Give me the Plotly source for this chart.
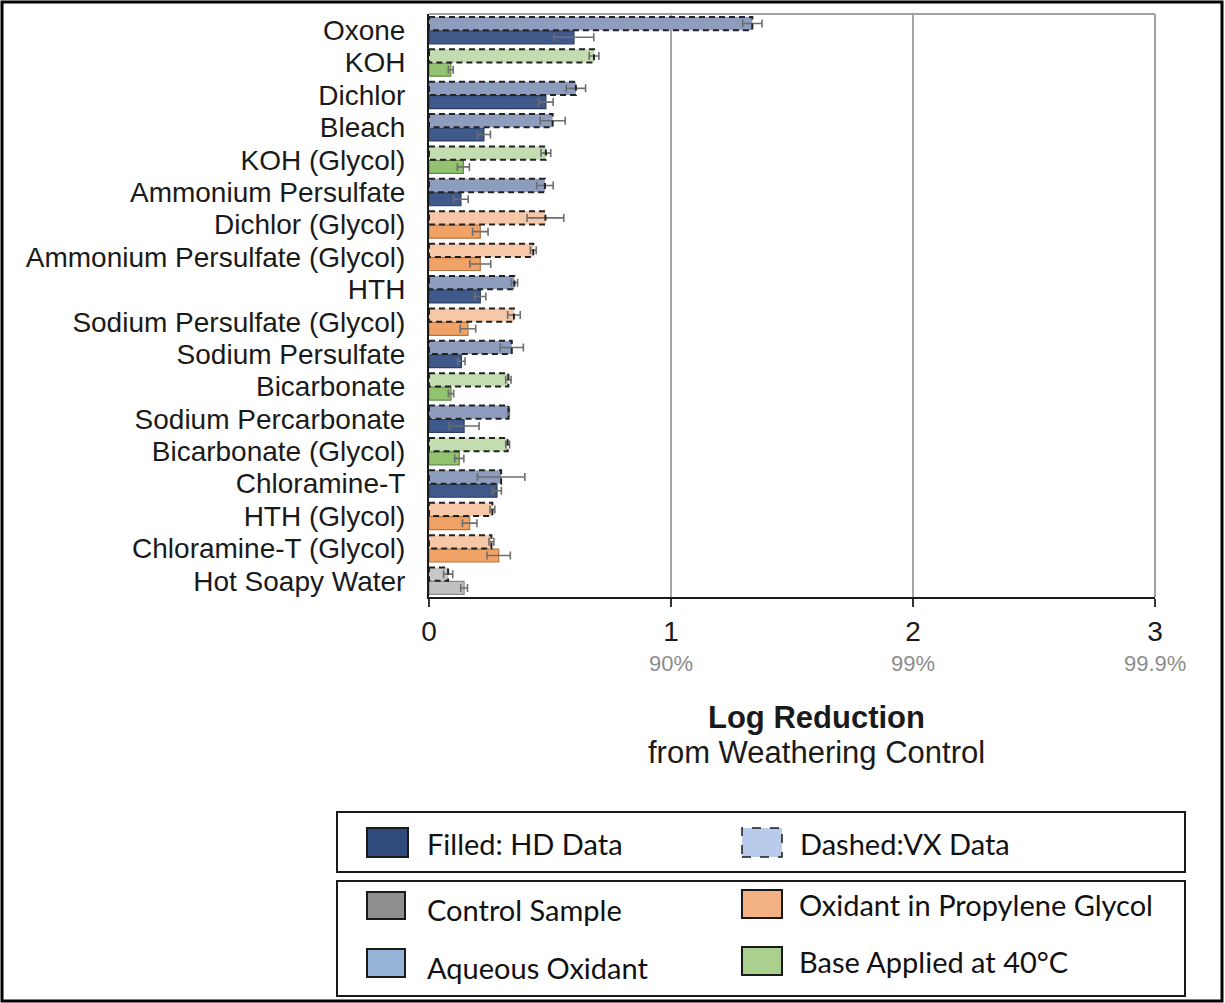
import plotly.graph_objects as go

# ---------------- data ----------------
categories = [
    "Oxone", "KOH", "Dichlor", "Bleach", "KOH (Glycol)", "Ammonium Persulfate",
    "Dichlor (Glycol)", "Ammonium Persulfate (Glycol)", "HTH", "Sodium Persulfate (Glycol)",
    "Sodium Persulfate", "Bicarbonate", "Sodium Percarbonate", "Bicarbonate (Glycol)",
    "Chloramine-T", "HTH (Glycol)", "Chloramine-T (Glycol)", "Hot Soapy Water",
]
groups = [
    "aq", "base", "aq", "aq", "base", "aq",
    "gly", "gly", "aq", "gly",
    "aq", "base", "aq", "base",
    "aq", "gly", "gly", "ctrl",
]
vx_values = [1.336, 0.682, 0.607, 0.511, 0.483, 0.479, 0.481, 0.431, 0.353, 0.351,
             0.342, 0.328, 0.329, 0.325, 0.298, 0.262, 0.258, 0.079]
vx_errors = [0.040, 0.020, 0.040, 0.052, 0.020, 0.034, 0.076, 0.012, 0.013, 0.026,
             0.048, 0.011, 0.003, 0.008, 0.098, 0.010, 0.010, 0.019]
hd_values = [0.599, 0.090, 0.483, 0.227, 0.142, 0.132, 0.212, 0.212, 0.212, 0.161,
             0.134, 0.091, 0.145, 0.125, 0.281, 0.168, 0.288, 0.145]
hd_errors = [0.082, 0.010, 0.030, 0.027, 0.025, 0.030, 0.032, 0.043, 0.023, 0.032,
             0.015, 0.011, 0.062, 0.019, 0.018, 0.030, 0.048, 0.014]
x_tick_values = [0, 1, 2, 3]
x_tick_labels = ["0", "1", "2", "3"]
pct_positions = [1, 2, 3]
pct_labels = ["90%", "99%", "99.9%"]

# ---------------- styles ----------------
vx_fill = {"aq": "#8E9DBE", "base": "#C3DDB0", "gly": "#F7C8A8", "ctrl": "#C8C8C8"}
hd_fill = {"aq": "#3F5A8A", "base": "#93C370", "gly": "#F1A267", "ctrl": "#C0C0C0"}
hd_edge = {"aq": "#2B3F63", "base": "#5E8A45", "gly": "#B8743E", "ctrl": "#8A8A8A"}

W, H = 1225, 1003
L, R, T, B = 429, 1155, 14, 597


def px(x):
    return (x - L) / (R - L)


def py(y):
    return (B - y) / (B - T)


AX_FONT = "Liberation Sans, Arial, sans-serif"
LEG_FONT = "Lato, Open Sans, sans-serif"

pos = list(range(len(categories)))
VX_OFF, VX_W = -0.41, 0.41
HD_OFF, HD_W = 0.02, 0.40

fig = go.Figure()

fig.add_trace(go.Bar(
    orientation="h", y=pos, x=vx_values, offset=VX_OFF, width=VX_W,
    marker=dict(color=[vx_fill[g] for g in groups], line=dict(width=0)),
    error_x=dict(type="data", array=vx_errors, color="#6E6E6E", thickness=1.6, width=4),
    showlegend=False, hoverinfo="skip",
))

# dashed outlines of VX bars, built from the data
ox, oy = [], []
for p, v in zip(pos, vx_values):
    y0, y1 = p + VX_OFF, p + VX_OFF + VX_W
    ox += [0, v, v, 0, 0, None]
    oy += [y0, y0, y1, y1, y0, None]
fig.add_trace(go.Scatter(
    x=ox, y=oy, mode="lines",
    line=dict(color="#222222", width=2, dash="6px,4px"),
    showlegend=False, hoverinfo="skip",
))

fig.add_trace(go.Bar(
    orientation="h", y=pos, x=hd_values, offset=HD_OFF, width=HD_W,
    marker=dict(color=[hd_fill[g] for g in groups],
                line=dict(color=[hd_edge[g] for g in groups], width=1.2)),
    error_x=dict(type="data", array=hd_errors, color="#6E6E6E", thickness=1.6, width=4),
    showlegend=False, hoverinfo="skip",
))

shapes = []
annotations = []

# gray top/right frame of plot area
shapes.append(dict(type="line", xref="paper", yref="paper", x0=0, x1=1, y0=1, y1=1,
                   line=dict(color="#A0A0A0", width=2)))
shapes.append(dict(type="line", xref="paper", yref="paper", x0=1, x1=1, y0=0, y1=1,
                   line=dict(color="#A0A0A0", width=2)))

# outer border of the figure
shapes.append(dict(type="rect", xref="paper", yref="paper",
                   x0=px(2), x1=px(1222), y0=py(1001), y1=py(2),
                   line=dict(color="black", width=3)))

# percentage labels under ticks
for xv, lab in zip(pct_positions, pct_labels):
    annotations.append(dict(x=xv, y=py(663), xref="x", yref="paper", text=lab,
                            showarrow=False, xanchor="center", yanchor="middle",
                            font=dict(family=AX_FONT, size=22, color="#8C8C8C")))

# axis title
annotations.append(dict(x=px(816), y=py(717), xref="paper", yref="paper",
                        text="<b>Log Reduction</b>", showarrow=False,
                        xanchor="center", yanchor="middle",
                        font=dict(family=AX_FONT, size=31, color="#1A1A1A")))
annotations.append(dict(x=px(816), y=py(752), xref="paper", yref="paper",
                        text="from Weathering Control", showarrow=False,
                        xanchor="center", yanchor="middle",
                        font=dict(family=AX_FONT, size=31, color="#1A1A1A")))

# legend boxes
shapes.append(dict(type="rect", xref="paper", yref="paper",
                   x0=px(337), x1=px(1185), y0=py(872), y1=py(812),
                   line=dict(color="#1A1A1A", width=2)))
shapes.append(dict(type="rect", xref="paper", yref="paper",
                   x0=px(337), x1=px(1185), y0=py(996), y1=py(881),
                   line=dict(color="#1A1A1A", width=2)))

legend_items = [
    # (x0, x1, y0, y1, fill, dashed, text, text_x, text_y)
    (367, 408, 828, 857, "#2F4B7C", False, "Filled: HD Data", 425, 843),
    (742, 782, 828, 857, "#B9CBEA", True, "Dashed:VX Data", 798, 843),
    (367, 405, 892, 919, "#8F8F8F", False, "Control Sample", 425, 909),
    (742, 782, 890, 918, "#F4B183", False, "Oxidant in Propylene Glycol", 797, 904),
    (367, 405, 949, 977, "#95B3D7", False, "Aqueous Oxidant", 425, 967),
    (742, 782, 947, 975, "#A9D08E", False, "Base Applied at 40°C", 797, 961),
]
for x0, x1, y0, y1, fill, dashed, text, tx, ty in legend_items:
    shapes.append(dict(type="rect", xref="paper", yref="paper",
                       x0=px(x0), x1=px(x1), y0=py(y1), y1=py(y0),
                       fillcolor=fill,
                       line=dict(color="#1A1A1A", width=2 if not dashed else 1.5,
                                 dash="dash" if dashed else "solid")))
    annotations.append(dict(x=px(tx), y=py(ty), xref="paper", yref="paper", text=text,
                            showarrow=False, xanchor="left", yanchor="middle",
                            font=dict(family=LEG_FONT, size=29, color="#111111")))

fig.update_layout(
    width=W, height=H,
    margin=dict(l=L, r=W - R, t=T, b=H - B, pad=0),
    paper_bgcolor="white", plot_bgcolor="white",
    barmode="overlay",
    showlegend=False,
    shapes=shapes,
    annotations=annotations,
    xaxis=dict(range=[0, 3], tickmode="array", tickvals=x_tick_values, ticktext=x_tick_labels,
               ticks="outside", ticklen=8, tickwidth=1.5, tickcolor="#333333",
               showline=True, linecolor="#1A1A1A", linewidth=2,
               showgrid=True, gridcolor="#A6A6A6", gridwidth=1.5, zeroline=False,
               tickfont=dict(family=AX_FONT, size=28, color="#1A1A1A"),
               ticklabelstandoff=0),
    yaxis=dict(range=[len(categories) - 0.5, -0.5], tickmode="array", tickvals=pos,
               ticktext=categories, ticks="", showline=True, linecolor="#1A1A1A",
               linewidth=2, showgrid=False, zeroline=False,
               tickfont=dict(family=AX_FONT, size=28, color="#1A1A1A"),
               ticklabelstandoff=16),
)

fig.write_html(
    "out.html",
    config={"displayModeBar": False},
    post_script="document.body.style.margin='0';document.body.style.overflow='hidden';",
)
